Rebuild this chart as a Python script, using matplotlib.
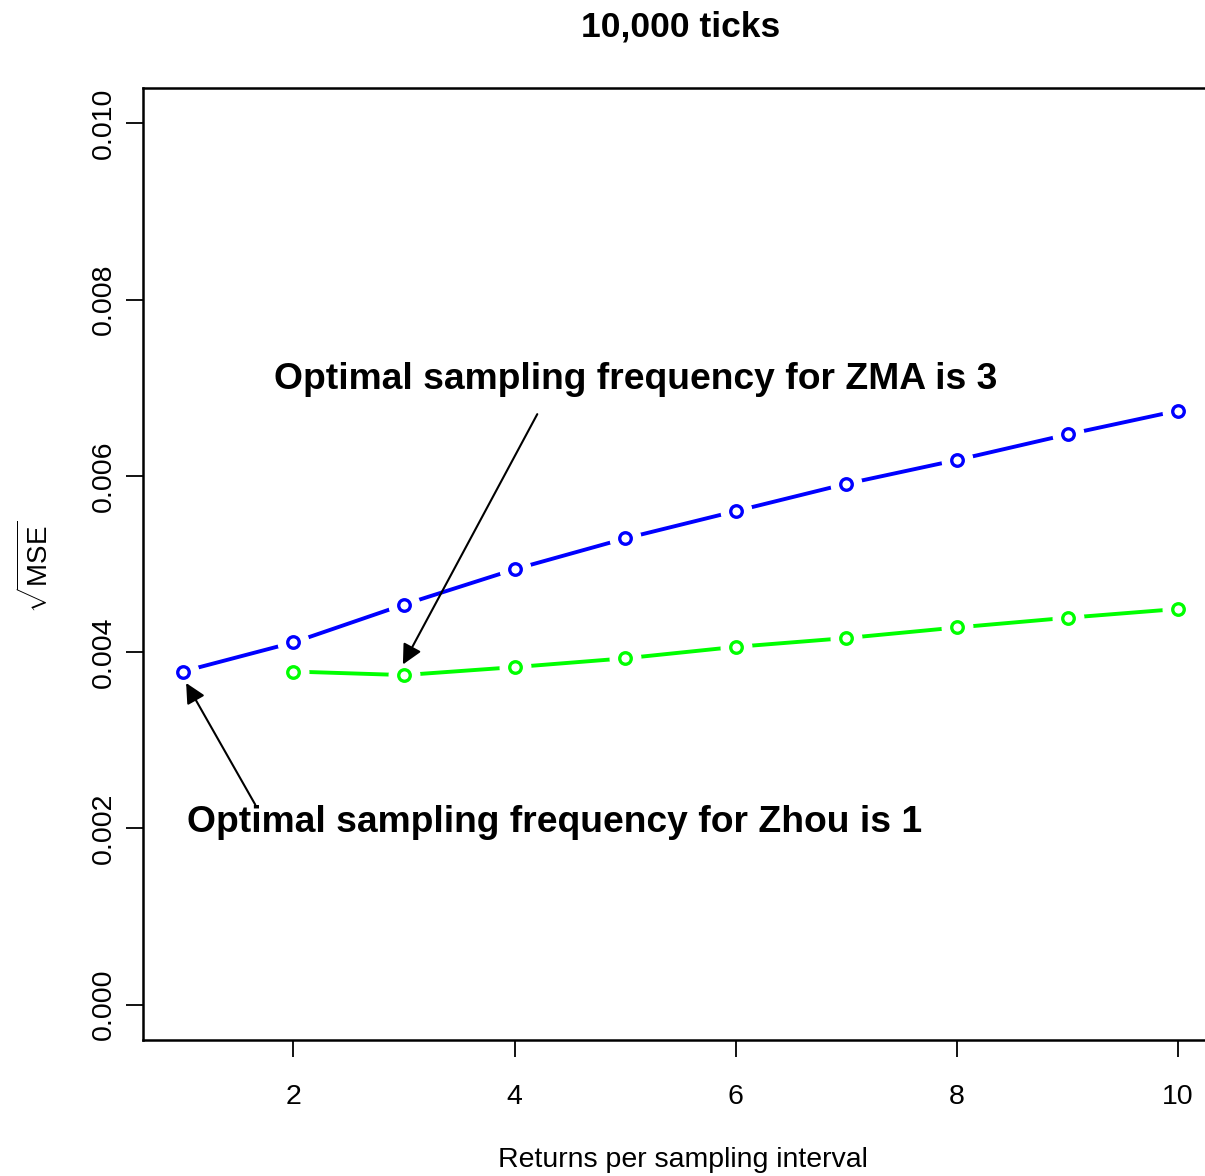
import matplotlib
matplotlib.use("Agg")
import matplotlib.pyplot as plt

plt.rcParams['font.family'] = ['Liberation Sans', 'DejaVu Sans']
plt.rcParams['mathtext.fontset'] = 'custom'
plt.rcParams['mathtext.rm'] = 'Liberation Sans'
plt.rcParams['mathtext.it'] = 'Liberation Sans:italic'

# returns per sampling interval
x_zhou = [1, 2, 3, 4, 5, 6, 7, 8, 9, 10]
rmse_zhou = [0.00378, 0.00411, 0.00454, 0.00494, 0.00529, 0.00560,
             0.00591, 0.00618, 0.00647, 0.00674]

x_zma = [2, 3, 4, 5, 6, 7, 8, 9, 10]
rmse_zma = [0.00378, 0.00374, 0.00383, 0.00393, 0.00406, 0.00416,
            0.00428, 0.00439, 0.00449]

x_ticks = [2, 4, 6, 8, 10]
y_ticks = [0.000, 0.002, 0.004, 0.006, 0.008, 0.010]

W, H = 1205, 1176
fig = plt.figure(figsize=(W / 100, H / 100), dpi=100)
# plot region runs past the right edge of the picture (as in the original)
ax = fig.add_axes([143 / W, (H - 1040) / H, (1218 - 143) / W, (1040 - 88) / H])

for xs, ys, col in ((x_zhou, rmse_zhou, '#0000ff'), (x_zma, rmse_zma, '#00ff00')):
    ax.plot(xs, ys, color=col, lw=2.8, zorder=2, solid_capstyle='butt')
    # white discs give the R type="b" gaps around points
    ax.plot(xs, ys, 'o', ms=22, mfc='white', mec='white', zorder=3)
    ax.plot(xs, ys, 'o', ms=8.3, mfc='white', mec=col, mew=2.4, zorder=4)

ax.set_xlim(0.64, 10.36)
ax.set_ylim(-0.0004, 0.0104)
ax.set_xticks(x_ticks)
ax.set_xticklabels([str(t) for t in x_ticks])
ax.set_yticks(y_ticks)
ax.set_yticklabels([f"{t:.3f}" for t in y_ticks], rotation=90, va='center')

for s in ax.spines.values():
    s.set_linewidth(1.8)
ax.tick_params(axis='both', direction='out', length=12, width=1.3,
               labelsize=20.5)
ax.tick_params(axis='x', pad=20)
ax.tick_params(axis='y', pad=7)

arrow = dict(arrowstyle='-|>', color='black', lw=1.5, mutation_scale=30,
             shrinkA=0, shrinkB=0)
ax.text(1.82, 0.00709, 'Optimal sampling frequency for ZMA is 3',
        fontsize=26.8, fontweight='bold', ha='left', va='center')
ax.annotate('', xy=(2.99, 0.00386), xytext=(4.205, 0.00670), arrowprops=arrow)
ax.text(1.04, 0.00207, 'Optimal sampling frequency for Zhou is 1',
        fontsize=26.8, fontweight='bold', ha='left', va='center')
ax.annotate('', xy=(1.03, 0.00365), xytext=(1.655, 0.00227), arrowprops=arrow)

fig.text(681 / W, 1 - 27 / H, '10,000 ticks', fontsize=25.5, fontweight='bold',
         ha='center', va='center')
fig.text(683 / W, 1 - 1160 / H, 'Returns per sampling interval', fontsize=20.5,
         ha='center', va='center')
fig.text(36 / W, 1 - 567 / H, r'$\sqrt{\mathrm{MSE}}$', fontsize=20,
         rotation=90, ha='center', va='center')

fig.savefig('out.png', dpi=100)
